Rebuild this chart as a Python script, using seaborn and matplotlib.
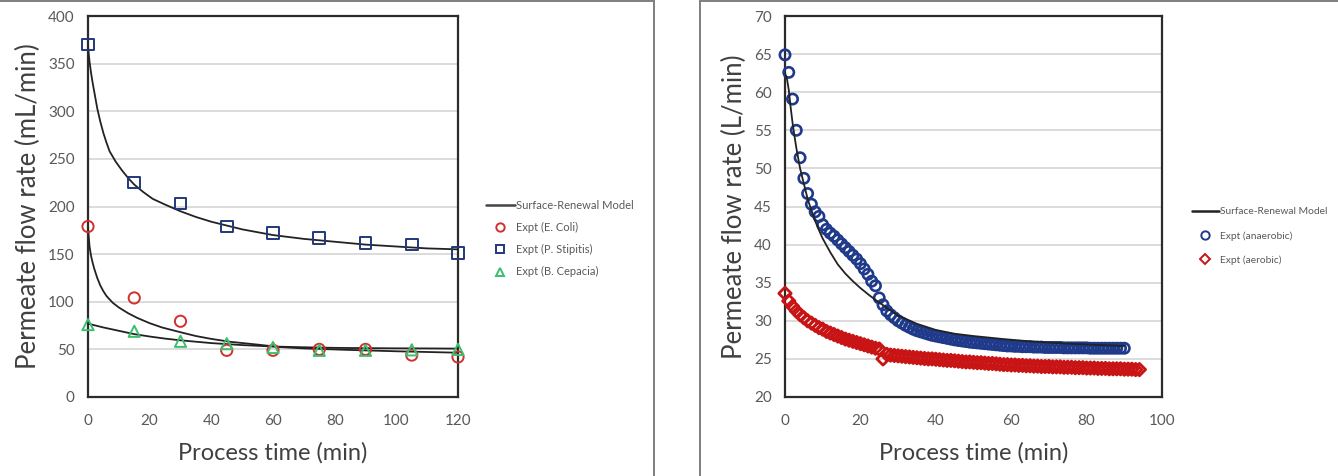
import numpy as np
import pandas as pd
import matplotlib
matplotlib.use("Agg")
import matplotlib.pyplot as plt
from matplotlib.lines import Line2D
import seaborn as sns

# ---------------- Left panel data ----------------
t_left = [0, 15, 30, 45, 60, 75, 90, 105, 120]
ecoli = [179, 104, 79.5, 49, 49, 50, 50, 44, 42]
stipitis = [370, 225, 203, 179, 172, 167, 162, 160, 151]
cepacia = [76, 69, 58.5, 56, 52, 49, 49, 49.5, 50]

m_stip_t = [0, 0.5, 1, 1.5, 2, 3, 4, 5, 6, 7, 9, 11, 13, 15, 18, 21, 25, 30, 35, 40,
            50, 60, 70, 80, 90, 100, 110, 120]
m_stip_v = [368, 352, 340, 330, 321, 303, 289, 277, 267, 258, 247, 238, 230, 223, 215, 208, 202, 195, 189, 184,
            176, 170, 166, 163, 160, 158, 156, 155]
m_ecoli_t = [0, 0.5, 1, 1.5, 2, 3, 4, 5, 6, 8, 10, 13, 16, 20, 24, 30, 35, 40, 46, 55, 62, 70, 84, 100, 120]
m_ecoli_v = [178, 158, 148, 141, 135, 125, 117, 111, 106, 99, 94, 88, 83, 77.5, 73, 68, 64, 61, 58, 55,
             52.5, 51, 49.5, 48, 46.5]
m_cep_t = [0, 5, 10, 15, 20, 25, 30, 40, 50, 60, 70, 80, 90, 100, 110, 120]
m_cep_v = [77, 73, 69.5, 66, 63.5, 61.3, 59.5, 56.6, 54.5, 53, 52.2, 51.6, 51.3, 51.1, 51, 50.8]

# ---------------- Right panel data ----------------
t_anaer = list(range(0, 91))
anaerobic = [64.9, 62.6, 59.1, 55.0, 51.4, 48.7, 46.7, 45.3, 44.3, 43.7,
             42.6, 42.0, 41.5, 41.1, 40.6, 40.1, 39.6, 39.1, 38.6, 38.1,
             37.5, 36.8, 36.1, 35.2, 34.6, 33.0, 32.1, 31.3, 30.8, 30.4,
             30.0, 29.7, 29.4, 29.15, 28.9, 28.7, 28.55, 28.4, 28.25, 28.1,
             28.0, 27.9, 27.8, 27.7, 27.6, 27.5, 27.42, 27.35, 27.28, 27.2,
             27.15, 27.1, 27.05, 27.0, 26.95, 26.9, 26.85, 26.8, 26.75, 26.7,
             26.7, 26.65, 26.65, 26.6, 26.6, 26.6, 26.55, 26.55, 26.55, 26.5,
             26.5, 26.5, 26.5, 26.5, 26.45, 26.45, 26.45, 26.45, 26.45, 26.45,
             26.45, 26.4, 26.4, 26.4, 26.4, 26.4, 26.4, 26.4, 26.4, 26.4,
             26.4]
t_aer = list(range(0, 95))
aerobic = [33.6, 32.6, 31.9, 31.3, 30.8, 30.4, 30.0, 29.7, 29.4, 29.1,
           28.9, 28.6, 28.4, 28.2, 28.0, 27.8, 27.6, 27.45, 27.3, 27.15,
           27.0, 26.85, 26.7, 26.55, 26.4, 26.3, 25.0, 25.6, 25.5, 25.45,
           25.4, 25.35, 25.3, 25.25, 25.2, 25.15, 25.1, 25.05, 25.0, 25.0,
           24.95, 24.9, 24.85, 24.8, 24.8, 24.75, 24.7, 24.65, 24.6, 24.6,
           24.55, 24.5, 24.5, 24.45, 24.4, 24.4, 24.35, 24.3, 24.25, 24.25,
           24.2, 24.2, 24.15, 24.15, 24.1, 24.1, 24.05, 24.05, 24.0, 24.0,
           24.0, 23.95, 23.95, 23.95, 23.9, 23.9, 23.9, 23.85, 23.85, 23.85,
           23.8, 23.8, 23.8, 23.75, 23.75, 23.75, 23.7, 23.7, 23.7, 23.7,
           23.65, 23.65, 23.65, 23.6, 23.6]
m_right_t = [0, 0.5, 1, 1.5, 2, 2.5, 3, 4, 5, 6, 7, 8, 9, 10, 12, 14, 16, 18, 20, 22.5, 25, 27, 30,
             35, 40, 45, 50, 58, 65, 75, 82, 90]
m_right_v = [62.5, 61.8, 60.3, 58.0, 56.0, 54.3, 52.7, 50.0, 48.0, 46.0, 44.5, 43.1, 41.9, 40.8, 39.0,
             37.4, 36.2, 35.2, 34.3, 33.3, 32.4, 31.7, 30.7, 29.6, 28.8, 28.3, 28.0, 27.6, 27.3, 27.0,
             26.85, 26.7]

left_labels = ["Surface-Renewal Model", "Expt (E. Coli)", "Expt (P. Stipitis)", "Expt (B. Cepacia)"]
right_labels = ["Surface-Renewal Model", "Expt (anaerobic)", "Expt (aerobic)"]

# ---------------- Style ----------------
sns.set_theme(style="white")
plt.rcParams["font.family"] = ["Lato", "DejaVu Sans"]

C_RED = "#D0312D"
C_NAVY = "#22387A"
C_GREEN = "#3DBE6E"
C_BLUE = "#1F3A8A"
C_DRED = "#C81414"
C_LINE = "#222222"
TICK_C = "#595959"
LAB_C = "#404040"

W, H = 1338, 476
fig = plt.figure(figsize=(W / 100, H / 100), dpi=100)

ax1 = fig.add_axes([88 / W, 1 - 397 / H, (458 - 88) / W, (397 - 16) / H])
ax2 = fig.add_axes([785 / W, 1 - 397 / H, (1162 - 785) / W, (397 - 16) / H])


def style_axes(ax, xlim, ylim, xticks, yticks):
    ax.set_xlim(*xlim)
    ax.set_ylim(*ylim)
    ax.set_xticks(xticks)
    ax.set_yticks(yticks)
    ax.grid(False)
    for y in yticks[1:-1]:
        ax.axhline(y, color="#D9D9D9", lw=1.3, zorder=0)
    for s in ax.spines.values():
        s.set_color("#2b2b2b")
        s.set_linewidth(1.6)
    ax.tick_params(axis="both", direction="out", length=3.5, width=0.8,
                   color="#888888", labelsize=11, labelcolor=TICK_C, pad=6)
    ax.tick_params(axis="x", pad=9)
    ax.set_xlabel("Process time (min)", fontsize=17, color=LAB_C, labelpad=10)


# ---- Left panel ----
style_axes(ax1, (0, 120), (0, 400), list(range(0, 121, 20)), list(range(0, 401, 50)))
for tt, vv in [(m_stip_t, m_stip_v), (m_ecoli_t, m_ecoli_v), (m_cep_t, m_cep_v)]:
    sns.lineplot(x=tt, y=vv, ax=ax1, color=C_LINE, lw=1.3, zorder=3)
sns.scatterplot(x=t_left, y=stipitis, ax=ax1, marker="s", s=70, facecolor="none",
                edgecolor=C_NAVY, linewidth=1.4, zorder=4, clip_on=False)
sns.scatterplot(x=t_left, y=ecoli, ax=ax1, marker="o", s=65, facecolor="none",
                edgecolor=C_RED, linewidth=1.4, zorder=4, clip_on=False)
sns.scatterplot(x=t_left, y=cepacia, ax=ax1, marker="^", s=65, facecolor="none",
                edgecolor=C_GREEN, linewidth=1.4, zorder=4, clip_on=False)
ax1.set_ylabel("Permeate flow rate (mL/min)", fontsize=18.5, color=LAB_C, labelpad=5)

h1 = [Line2D([], [], color="#444444", lw=1.8),
      Line2D([], [], marker="o", ls="none", mfc="none", mec=C_RED, mew=1.4, ms=6),
      Line2D([], [], marker="s", ls="none", mfc="none", mec=C_NAVY, mew=1.4, ms=6),
      Line2D([], [], marker="^", ls="none", mfc="none", mec=C_GREEN, mew=1.4, ms=6)]
leg1 = fig.legend(h1, left_labels, loc="upper left", bbox_to_anchor=(486 / W, 1 - 200 / H),
                  frameon=False, fontsize=8, labelcolor="#595959", handlelength=2.6,
                  handletextpad=0.1, labelspacing=1.0, borderaxespad=0, borderpad=0)

# ---- Right panel ----
style_axes(ax2, (0, 100), (20, 70), list(range(0, 101, 20)), list(range(20, 71, 5)))
sns.scatterplot(x=t_anaer, y=anaerobic, ax=ax2, marker="o", s=55, facecolor="none",
                edgecolor=C_BLUE, linewidth=1.9, zorder=3, clip_on=False)
sns.scatterplot(x=t_aer, y=aerobic, ax=ax2, marker="D", s=40, facecolor="none",
                edgecolor=C_DRED, linewidth=2.0, zorder=3, clip_on=False)
sns.lineplot(x=m_right_t, y=m_right_v, ax=ax2, color=C_LINE, lw=1.3, zorder=4)
ax2.set_ylabel("Permeate flow rate (L/min)", fontsize=18.5, color=LAB_C, labelpad=5)

h2 = [Line2D([], [], color="#222222", lw=1.8),
      Line2D([], [], marker="o", ls="none", mfc="none", mec=C_BLUE, mew=1.4, ms=6),
      Line2D([], [], marker="D", ls="none", mfc="none", mec=C_DRED, mew=1.4, ms=5)]
leg2 = fig.legend(h2, right_labels, loc="upper left", bbox_to_anchor=(1192 / W, 1 - 207 / H),
                  frameon=False, fontsize=7.4, labelcolor="#595959", handlelength=2.6,
                  handletextpad=0.1, labelspacing=1.45, borderaxespad=0, borderpad=0)

# ---- Panel frames ----
fc = "#7f7f7f"
fig.add_artist(Line2D([0, 654 / W], [1 - 1 / H, 1 - 1 / H], transform=fig.transFigure, color=fc, lw=1.4))
fig.add_artist(Line2D([654 / W, 654 / W], [0, 1], transform=fig.transFigure, color=fc, lw=1.4))
fig.add_artist(Line2D([700 / W, 1], [1 - 1 / H, 1 - 1 / H], transform=fig.transFigure, color=fc, lw=1.4))
fig.add_artist(Line2D([700 / W, 700 / W], [0, 1], transform=fig.transFigure, color=fc, lw=1.4))

fig.savefig("out.png", dpi=100)
